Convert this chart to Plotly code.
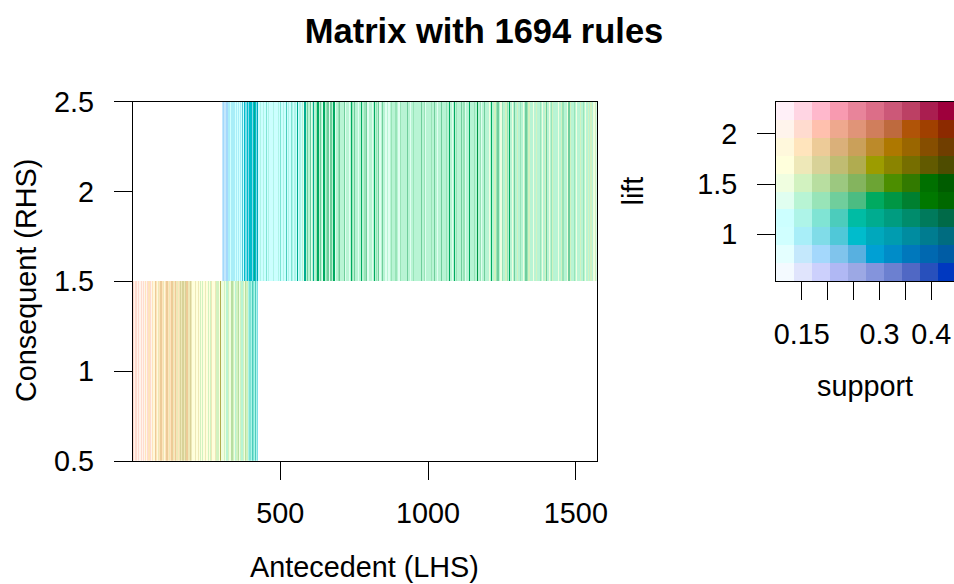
import plotly.graph_objects as go

# ---------------- data ----------------
N_LHS = 1570                      # antecedent (LHS) itemsets on the x axis
rhs_rows = [1, 2]                 # consequent (RHS) rows
lift_key_range = [0.536, 2.315]   # range of the lift axis of the colour key
support_key_range = [0.1004, 0.4473]
key_support_ticks = [0.15, 0.2, 0.25, 0.3, 0.35, 0.4]
key_support_ticktext = ["0.15", "", "", "0.3", "", "0.4"]
key_lift_ticks = [1, 1.5, 2]
x_ticks = [500, 1000, 1500]
y_ticks = [0.5, 1, 1.5, 2, 2.5]
y_ticktext = ["0.5", "1", "1.5", "2", "2.5"]

# RHS 1: runs of rules (first col, last col, lift, support)
rhs1_start = [1, 31, 71, 155, 201, 297, 301, 392]
rhs1_end = [30, 70, 154, 200, 296, 300, 391, 425]
rhs1_lift = [2.05, 2.05, 1.87, 1.69, 1.69, 1.69, 1.51, 1.16]
rhs1_support = [0.15, 0.12, 0.12, 0.15, 0.12, 0.26, 0.12, 0.15]
# RHS 1: individual rules that stand out (lift, support, columns)
rhs1_lines = [
    (2.05, 0.12, [6, 16, 24]),
    (2.05, 0.15, [36, 48, 60]),
    (1.87, 0.15, [42, 54, 66, 80, 91, 100, 110, 120, 128, 140, 152]),
    (1.87, 0.19, [75, 95, 115, 132, 143, 183]),
    (1.69, 0.15, [87, 104, 124, 137, 149, 211, 222, 245, 267, 278]),
    (1.69, 0.19, [160, 169, 177, 194]),
    (1.51, 0.15, [228, 236, 256, 262, 284, 290, 310, 324, 340, 352, 364, 375, 386]),
    (1.34, 0.15, [318, 346, 369]),
    (1.51, 0.19, [335, 357, 380]),
    (1.16, 0.19, [396, 408]),
    (1.16, 0.22, [403, 414]),
    (0.98, 0.19, [420]),
]

# RHS 2
rhs2_start = [302, 331, 376, 426, 573, 861, 1199, 1351]
rhs2_end = [330, 375, 425, 572, 860, 1198, 1350, 1570]
rhs2_lift = [0.80, 0.98, 0.98, 1.16, 1.34, 1.34, 1.34, 1.34]
rhs2_support = [0.15, 0.12, 0.19, 0.12, 0.15, 0.15, 0.15, 0.15]
rhs2_lines = [
    (0.80, 0.19, [307, 318]),
    (0.98, 0.15, [325, 335, 342, 350, 357, 364]),
    (0.98, 0.22, [370]),
    (0.98, 0.26, [378, 387, 396, 402, 407, 415]),
    (0.98, 0.29, [421]),
    (1.16, 0.29, [411, 558, 582, 612]),
    (1.16, 0.15, [432, 442, 459, 476, 493, 510, 527, 541, 548, 565]),
    (1.16, 0.19, [452, 500, 535]),
    (1.16, 0.22, [520]),
    (1.34, 0.29, [626, 646, 680, 738, 772, 816, 1071, 1088, 1139, 1213, 1275]),
    (1.34, 0.33, [1165]),
    (1.34, 0.22, [590, 600, 635, 660, 670, 700, 715, 750, 790, 830, 845,
                  930, 975, 1020, 1043, 1111, 1190, 1235, 1292, 1330, 1400, 1475]),
    (1.34, 0.12, [578, 605, 640, 665, 686, 720, 732, 762, 795, 810, 836, 856,
                  866, 900, 940, 990, 1030, 1080, 1125, 1180]),
    (1.34, 0.19, [620, 655, 695, 742, 785, 825, 875, 890, 905, 950, 985, 1010,
                  1060, 1095, 1120, 1155, 1175, 1230, 1250, 1268, 1310, 1335,
                  1380, 1415, 1455, 1495, 1525]),
    (1.51, 0.12, [1205, 1245, 1285, 1320, 1355, 1385, 1410, 1440, 1470, 1500,
                  1530, 1560]),
    (1.51, 0.15, [1225, 1262, 1300, 1340, 1365, 1395, 1420, 1450, 1480, 1515,
                  1540, 1550, 1565]),
]

# 2-D colour key (rows: high lift -> low lift, cols: low support -> high support)
key_colors = [
    ["#FFF0F8", "#FFD5E3", "#FFB8CC", "#F89AB0", "#E8849A", "#DC6E88", "#CC5878", "#BC4064", "#AA1E50", "#9E003C"],
    ["#FFF4EC", "#FFDBCF", "#FFC0AE", "#EEA88E", "#E09478", "#D07E5C", "#BE6A3E", "#B05408", "#A04000", "#8C2A00"],
    ["#FFF8DC", "#FFE4BC", "#EDCB98", "#DAB07A", "#CAA05A", "#BC8A2A", "#AE7800", "#9A6600", "#864E00", "#703E00"],
    ["#FFFFDC", "#EEE8B8", "#D8D298", "#C0BC72", "#B0AC50", "#9C9C00", "#8A8400", "#766E00", "#625A00", "#4E4C00"],
    ["#F0FEE0", "#D2F2C0", "#B8DEA0", "#9CC880", "#84B45E", "#6CA434", "#4C8E00", "#327A00", "#007000", "#005C00"],
    ["#E0FEF0", "#B8F4D4", "#98E4B8", "#70CE9C", "#4CBC82", "#00AA60", "#009644", "#008030", "#007800", "#006800"],
    ["#CCFFFF", "#AEF4E8", "#80E4D4", "#4CCCBC", "#00BCA4", "#00AC90", "#009C80", "#008C6C", "#007A5C", "#006A48"],
    ["#D0FFFF", "#A8EEF8", "#80DCE8", "#50C8D8", "#00BCCC", "#00A8BC", "#009CB0", "#008CA0", "#007C90", "#006C80"],
    ["#E4FFFF", "#C4E8FC", "#A4D8FC", "#80C4EC", "#58B0E0", "#00A0D4", "#008CC8", "#0078BC", "#0068B0", "#005CA4"],
    ["#F4FAFF", "#E0E4FC", "#CCD0FC", "#B0B8F4", "#9CA8E4", "#8494DC", "#6C80D0", "#5068C4", "#2850BC", "#0038C0"],
]

# ---------------- helpers ----------------
NK = len(key_colors)
dl = (lift_key_range[1] - lift_key_range[0]) / NK
ds = (support_key_range[1] - support_key_range[0]) / NK


def key_index(lift, sup):
    r = min(NK - 1, max(0, int((lift_key_range[1] - lift) / dl)))
    c = min(NK - 1, max(0, int((sup - support_key_range[0]) / ds)))
    return r * NK + c + 0.5


def build_row(starts, ends, lifts, sups, lines, width=4):
    z = [None] * N_LHS
    for s, e, l, sp in zip(starts, ends, lifts, sups):
        for col in range(s, e + 1):
            z[col - 1] = key_index(l, sp)
    for l, sp, cols in lines:
        v = key_index(l, sp)
        for c0 in cols:
            for col in range(c0, min(N_LHS, c0 + width - 1) + 1):
                if z[col - 1] is not None:
                    z[col - 1] = v
    return z


flat = [c for row in key_colors for c in row]
ncol = len(flat)
colorscale = []
for i, c in enumerate(flat):
    colorscale.append([i / ncol, c])
    colorscale.append([(i + 1) / ncol, c])

z_main = [
    build_row(rhs1_start, rhs1_end, rhs1_lift, rhs1_support, rhs1_lines),
    build_row(rhs2_start, rhs2_end, rhs2_lift, rhs2_support, rhs2_lines),
]
x_main = list(range(1, N_LHS + 1))

# key grid (bottom row first so y increases)
key_x = [support_key_range[0] + (c + 0.5) * ds for c in range(NK)]
key_y = [lift_key_range[1] - (r + 0.5) * dl for r in range(NK - 1, -1, -1)]
key_z = [[r * NK + c + 0.5 for c in range(NK)] for r in range(NK - 1, -1, -1)]

# ---------------- figure ----------------
W, H = 954, 584
FONT = "Liberation Sans, Arial, Helvetica, sans-serif"
FS = 28.8

fig = go.Figure()
fig.add_trace(go.Heatmap(
    x=x_main, y=rhs_rows, z=z_main, colorscale=colorscale, zmin=0, zmax=ncol,
    showscale=False, hoverinfo="skip", xaxis="x", yaxis="y"))
fig.add_trace(go.Heatmap(
    x=key_x, y=key_y, z=key_z, colorscale=colorscale, zmin=0, zmax=ncol,
    showscale=False, hoverinfo="skip", xaxis="x2", yaxis="y2"))


def px_x(p):
    return p / W


def px_y(p):
    return 1 - p / H


axis_common = dict(
    showgrid=False, zeroline=False, showline=True, linecolor="black", linewidth=1,
    ticks="outside", ticklen=18, tickwidth=1, tickcolor="black", automargin=False,
    tickfont=dict(family=FONT, size=FS, color="black"),
)

fig.update_layout(
    width=W, height=H,
    margin=dict(l=0, r=0, t=0, b=0, autoexpand=False),
    paper_bgcolor="white", plot_bgcolor="white",
    font=dict(family=FONT, color="black"),
    title=dict(text="<b>Matrix with 1694 rules</b>", x=px_x(484), xanchor="center",
               y=px_y(30.5), yanchor="middle", automargin=False,
               font=dict(family=FONT, size=34.5, color="black")),
    xaxis=dict(domain=[px_x(132.7), px_x(596.7)], range=[0.5, N_LHS + 0.5],
               tickvals=x_ticks, anchor="y", mirror=True,
               ticklabelstandoff=8, **axis_common),
    yaxis=dict(domain=[px_y(461), px_y(101.7)], range=[0.5, 2.5],
               tickvals=y_ticks, ticktext=y_ticktext, anchor="x", mirror=True,
               ticklabelstandoff=14, **axis_common),
    xaxis2=dict(domain=[px_x(776), 1.0],
                range=[support_key_range[0], support_key_range[0] + (954 - 776) / 518.4],
                tickvals=key_support_ticks, ticktext=key_support_ticktext,
                anchor="y2", mirror=True, ticklabelstandoff=9, **axis_common),
    yaxis2=dict(domain=[px_y(281), px_y(102)], range=lift_key_range,
                tickvals=key_lift_ticks, anchor="x2", mirror=False,
                ticklabelstandoff=14, **axis_common),
    annotations=[
        dict(text="Antecedent (LHS)", x=px_x(364.7), y=px_y(567), xref="paper", yref="paper",
             xanchor="center", yanchor="middle", showarrow=False,
             font=dict(family=FONT, size=FS, color="black")),
        dict(text="Consequent (RHS)", x=px_x(26), y=px_y(281), xref="paper", yref="paper",
             xanchor="center", yanchor="middle", showarrow=False, textangle=-90,
             font=dict(family=FONT, size=FS, color="black")),
        dict(text="lift", x=px_x(632), y=px_y(191.5), xref="paper", yref="paper",
             xanchor="center", yanchor="middle", showarrow=False, textangle=-90,
             font=dict(family=FONT, size=FS, color="black")),
        dict(text="support", x=px_x(865), y=px_y(386), xref="paper", yref="paper",
             xanchor="center", yanchor="middle", showarrow=False,
             font=dict(family=FONT, size=FS, color="black")),
    ],
)

fig.write_html("out.html")
